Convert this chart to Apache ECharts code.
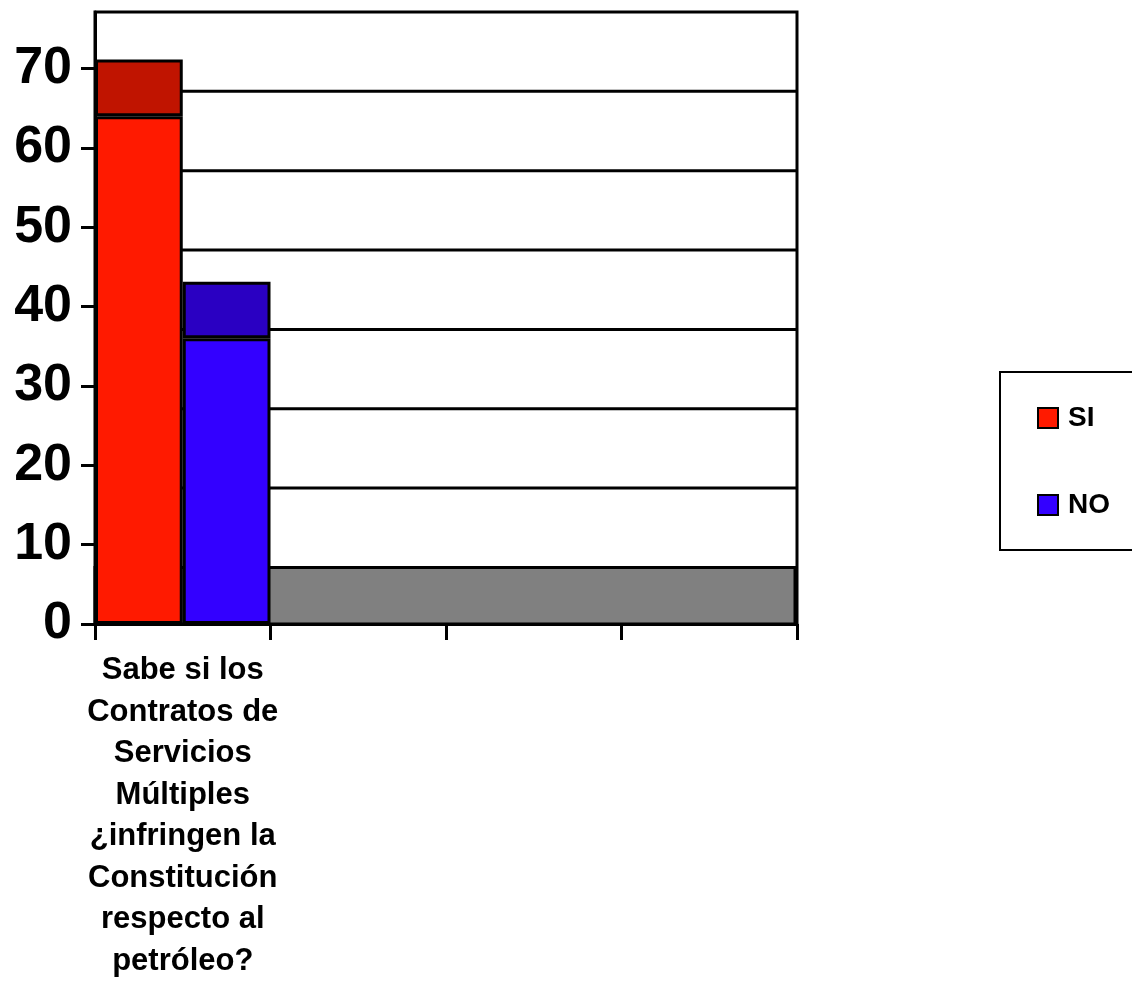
<!DOCTYPE html>
<html>
<head>
<meta charset="utf-8">
<title>Contratos de Servicios Múltiples</title>
<script src="https://cdn.jsdelivr.net/npm/echarts@6/dist/echarts.min.js"></script>
<style>
  html, body { margin: 0; padding: 0; background: #ffffff; }
  #chart { width: 1132px; height: 982px; }
</style>
</head>
<body>
<div id="chart"></div>
<script>
// Survey question (first slot) followed by three empty category slots
const categories = [
  'Sabe si los\nContratos de\nServicios\nMúltiples\n¿infringen la\nConstitución\nrespecto al\npetróleo?',
  '', '', ''
];
const siValues = [64, '-', '-', '-'];
const noValues = [36, '-', '-', '-'];
const yTicks = [0, 10, 20, 30, 40, 50, 60, 70];

// Depth of the pseudo-3D look, in value units (back wall shifted up by this amount)
const DEPTH = 7.125;
const Y_MAX = yTicks[yTicks.length - 1] + DEPTH;

const FONT = '"Liberation Sans", Arial, sans-serif';
const barBorder = { borderColor: '#000', borderWidth: 3 };

// Top faces of the columns: same stack, sitting on the front face
const topFace = vals => vals.map(v => (v === '-' ? '-' : DEPTH));

const chart = echarts.init(document.getElementById('chart'), null, { renderer: 'canvas' });

chart.setOption({
  backgroundColor: '#ffffff',
  animation: false,
  grid: {
    left: 95, right: 335, top: 12, bottom: 353,
    show: true, borderColor: '#000', borderWidth: 3, backgroundColor: 'transparent'
  },
  legend: {
    data: ['SI', 'NO'],
    orient: 'vertical',
    left: 1000, top: 372,
    icon: 'rect',
    itemWidth: 20, itemHeight: 20,
    itemGap: 55,
    padding: [30, 90, 29, 37],
    borderColor: '#000', borderWidth: 2,
    backgroundColor: '#fff',
    itemStyle: { borderColor: '#000', borderWidth: 2 },
    textStyle: {
      fontFamily: FONT, fontSize: 28, fontWeight: 'bold', color: '#000',
      lineHeight: 32, padding: [0, 0, 0, 5]
    }
  },
  xAxis: {
    type: 'category',
    data: categories,
    boundaryGap: true,
    axisLine: { show: true, lineStyle: { color: '#000', width: 3 } },
    axisTick: { show: true, interval: 0, length: 16, lineStyle: { color: '#000', width: 3 } },
    axisLabel: {
      interval: 0, margin: 26,
      fontFamily: FONT, fontSize: 31, fontWeight: 'bold', color: '#000',
      lineHeight: 41.5, align: 'center'
    },
    splitLine: { show: false }
  },
  yAxis: {
    type: 'value',
    min: 0, max: Y_MAX, interval: 10,
    axisLine: { show: true, lineStyle: { color: '#000', width: 3 } },
    axisTick: { show: true, length: 14, customValues: yTicks, lineStyle: { color: '#000', width: 3 } },
    axisLabel: {
      customValues: yTicks, margin: 23,
      fontFamily: FONT, fontSize: 52, fontWeight: 'bold', color: '#000'
    },
    splitLine: { show: false }
  },
  series: [
    {
      // Back wall gridlines and the grey floor, shifted up by the depth
      type: 'custom',
      name: 'wall',
      z: 1,
      silent: true,
      data: yTicks.map(v => [0, v]),
      renderItem: function (params, api) {
        const cs = params.coordSys;
        const v = api.value(1);
        const yTop = api.coord([0, v + DEPTH])[1];
        if (v === 0) {
          const y0 = api.coord([0, 0])[1];
          return {
            type: 'rect',
            shape: { x: cs.x, y: yTop, width: cs.width - 2, height: y0 - yTop },
            style: { fill: '#808080', stroke: '#000', lineWidth: 3 }
          };
        }
        if (v >= yTicks[yTicks.length - 1]) return null;
        return {
          type: 'line',
          shape: { x1: cs.x, y1: yTop, x2: cs.x + cs.width, y2: yTop },
          style: { stroke: '#000', lineWidth: 3 }
        };
      }
    },
    {
      name: 'SI', type: 'bar', stack: 'si', z: 2,
      barGap: '0%', barCategoryGap: '0%',
      data: siValues,
      itemStyle: Object.assign({ color: '#FF1A00' }, barBorder)
    },
    {
      name: 'SI ', type: 'bar', stack: 'si', z: 2,
      data: topFace(siValues),
      itemStyle: Object.assign({ color: '#C01400' }, barBorder)
    },
    {
      name: 'NO', type: 'bar', stack: 'no', z: 2,
      data: noValues,
      itemStyle: Object.assign({ color: '#3300FF' }, barBorder)
    },
    {
      name: 'NO ', type: 'bar', stack: 'no', z: 2,
      data: topFace(noValues),
      itemStyle: Object.assign({ color: '#2A00C2' }, barBorder)
    }
  ]
});
</script>
</body>
</html>
